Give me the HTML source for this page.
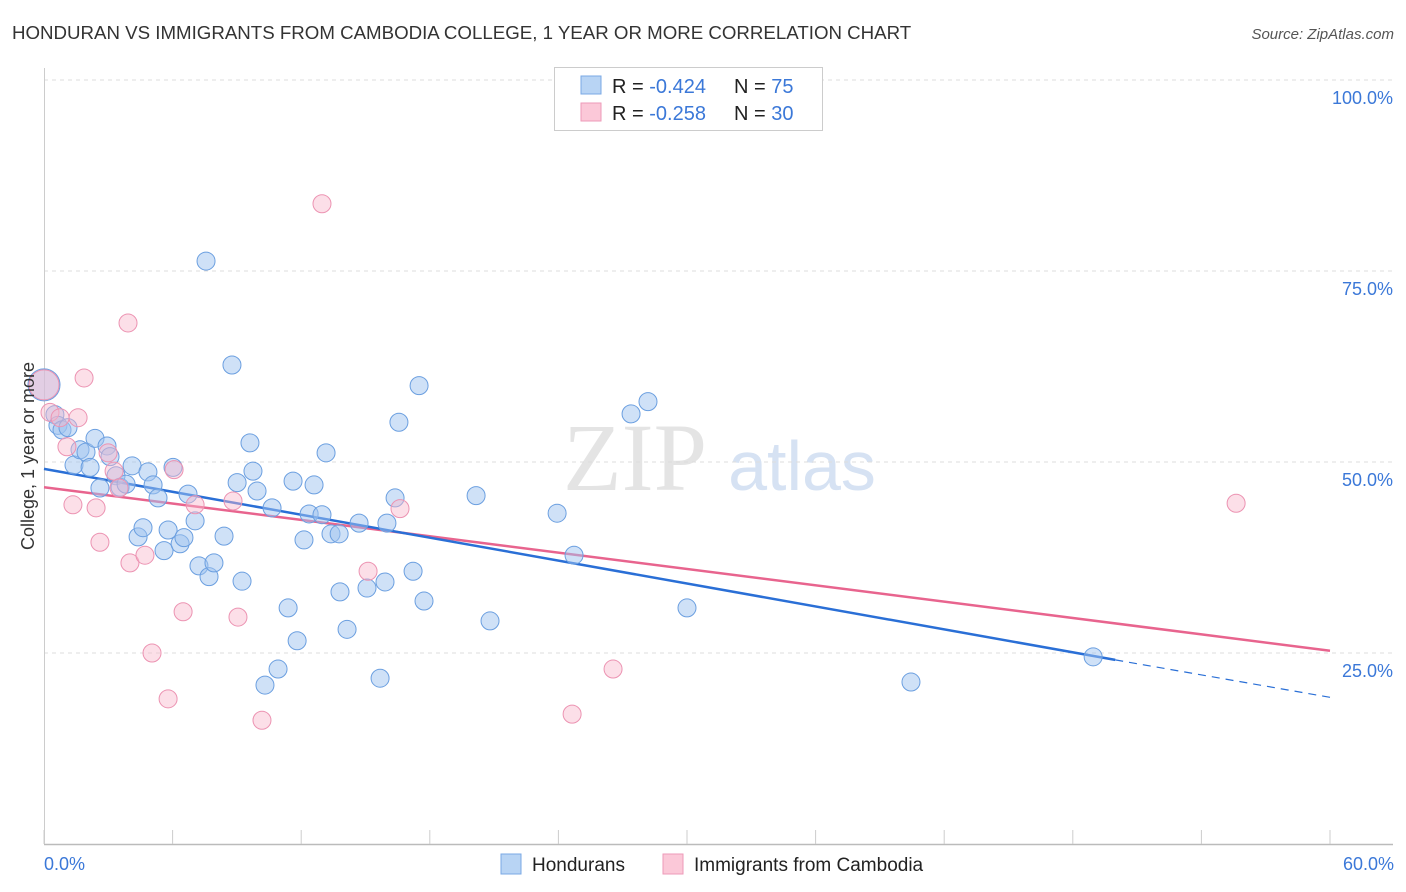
<!DOCTYPE html>
<html><head><meta charset="utf-8"><style>
body{margin:0;background:#fff;font-family:"Liberation Sans",sans-serif;}
svg{display:block}
</style></head><body>
<svg id="chart" width="1406" height="892">
<text x="12" y="39" font-size="18.7" fill="#333">HONDURAN VS IMMIGRANTS FROM CAMBODIA COLLEGE, 1 YEAR OR MORE CORRELATION CHART</text>
<text x="1394" y="39" font-size="15" fill="#555" font-style="italic" text-anchor="end">Source: ZipAtlas.com</text>
<g>
<text x="635" y="490" font-size="96" fill="#e4e4e4" text-anchor="middle" font-family="Liberation Serif,serif">ZIP</text>
<text x="802" y="490" font-size="70" fill="#d6e2f3" text-anchor="middle">atlas</text>
</g>
<g id="grid"></g>
<g id="axes"></g>
<g id="lines"></g>
<g id="points"></g>
<text transform="translate(34,456) rotate(-90)" font-size="18" fill="#333" text-anchor="middle">College, 1 year or more</text>
<g>
<rect x="554.5" y="67.5" width="268" height="63" fill="#fff" stroke="#ccc"/>
<rect x="581" y="76" width="20" height="18" fill="#b8d4f4" stroke="#7aa8e4"/>
<rect x="581" y="103" width="20" height="18" fill="#fbc8d8" stroke="#ee9ab8"/>
<text x="612" y="93" font-size="20" fill="#222">R = <tspan fill="#3b78d8">-0.424</tspan><tspan x="734">N = </tspan><tspan fill="#3b78d8">75</tspan></text>
<text x="612" y="120" font-size="20" fill="#222">R = <tspan fill="#3b78d8">-0.258</tspan><tspan x="734">N = </tspan><tspan fill="#3b78d8">30</tspan></text>
</g>
<g>
<rect x="501" y="854" width="20" height="20" fill="#b8d4f4" stroke="#7aa8e4"/>
<text x="532" y="871" font-size="19" fill="#222">Hondurans</text>
<rect x="663" y="854" width="20" height="20" fill="#fbc8d8" stroke="#ee9ab8"/>
<text x="694" y="871" font-size="19" fill="#222">Immigrants from Cambodia</text>
</g>
</svg>
<script>
const yTicks=[25,50,75,100];
const yTickLabels=["25.0%","50.0%","75.0%","100.0%"];
const xTicks=[0,6,12,18,24,30,36,42,48,54,60];
const xLabelVals=[0,60];
const xLabels=["0.0%","60.0%"];
const bluePts=[[0,60.1],[0.51,56.2],[0.65,54.8],[0.84,54.2],[1.12,54.5],[1.4,49.6],[1.68,51.6],[1.96,51.3],[2.15,49.3],[2.38,53.1],[2.61,46.6],[2.94,52.1],[3.08,50.7],[3.36,48.2],[3.55,46.7],[3.83,47.1],[4.11,49.5],[4.39,40.2],[4.62,41.4],[4.85,48.7],[5.09,47.0],[5.32,45.3],[5.6,38.4],[5.79,41.1],[6.02,49.3],[6.35,39.3],[6.53,40.1],[6.72,45.8],[7.05,42.3],[7.23,36.4],[7.56,76.3],[7.7,35.0],[7.93,36.8],[8.4,40.3],[8.77,62.7],[9.01,47.3],[9.24,34.4],[9.61,52.5],[9.75,48.8],[9.94,46.2],[10.31,20.8],[10.64,44.0],[10.92,22.9],[11.39,30.9],[11.62,47.5],[11.81,26.6],[12.13,39.8],[12.37,43.2],[12.6,47.0],[12.97,43.1],[13.16,51.2],[13.39,40.6],[13.77,40.6],[13.81,33.0],[14.14,28.1],[14.7,42.0],[15.07,33.5],[15.68,21.7],[15.91,34.3],[16.0,42.0],[16.38,45.3],[16.56,55.2],[17.22,35.7],[17.5,60.0],[17.73,31.8],[20.16,45.6],[20.81,29.2],[23.94,43.3],[24.73,37.8],[27.39,56.3],[28.18,57.9],[30.0,30.9],[40.45,21.2],[48.95,24.5]];
const blueSizes=[16];
const pinkPts=[[0,60.1],[0.28,56.5],[0.75,55.8],[1.07,52.0],[1.35,44.4],[1.59,55.8],[1.87,61.0],[2.43,44.0],[2.61,39.5],[2.99,51.2],[3.27,48.8],[3.5,46.6],[3.92,68.2],[4.01,36.8],[4.71,37.8],[5.04,25.0],[5.79,19.0],[6.07,49.0],[6.49,30.4],[7.05,44.4],[8.82,44.9],[9.05,29.7],[10.17,16.2],[12.97,83.8],[15.12,35.7],[16.61,43.9],[24.64,17.0],[26.55,22.9],[55.62,44.6]];
const pinkSizes=[15];
const blueTrend=[[0,49.1],[49.98,24.1]];
const blueTrendExt=[[49.98,24.1],[60,19.2]];
const pinkTrend=[[0,46.7],[60,25.3]];
const NS="http://www.w3.org/2000/svg";
const X0=44,X1=1330,Y0=844,Y100=80;
const sx=v=>X0+(v/60)*(X1-X0);
const sy=v=>Y0-(v/100)*(Y0-Y100);
function mk(t,a,parent){const e=document.createElementNS(NS,t);for(const k in a)e.setAttribute(k,a[k]);document.getElementById(parent).appendChild(e);return e;}
yTicks.forEach((t,i)=>{
 const l=mk('line',{x1:44,x2:1393,y1:sy(t),y2:sy(t),stroke:'#ddd','stroke-dasharray':'4,4'},'grid');
 
 
 const tx=mk('text',{x:1393,y:sy(t)+24,'font-size':18,fill:'#3b78d8','text-anchor':'end'},'axes');
 tx.textContent=yTickLabels[i];
 
 
});
const ax=mk('line',{x1:44,x2:1393,y1:844.5,y2:844.5,stroke:'#bbb','stroke-width':1.5},'axes');


const ay=mk('line',{x1:44.5,x2:44.5,y1:68,y2:844,stroke:'#ccc'},'axes');


xTicks.forEach(t=>{
 const l=mk('line',{x1:sx(t),x2:sx(t),y1:830,y2:844,stroke:'#ccc'},'axes');
 
 
});
xLabelVals.forEach((v,i)=>{
 const tx=mk('text',{x:i==0?sx(v):1394,y:870,'font-size':18,fill:'#3b78d8','text-anchor':i==0?'start':'end'},'axes');
 tx.textContent=xLabels[i];
 
 
});
bluePts.forEach((p,i)=>{
 const c=mk('circle',{cx:sx(p[0]),cy:sy(p[1]),r:i<blueSizes.length?blueSizes[i]:9,fill:'rgba(160,196,240,0.5)',stroke:'#6b9fe0','stroke-width':1},'points');
 
 
});
pinkPts.forEach((p,i)=>{
 const c=mk('circle',{cx:sx(p[0]),cy:sy(p[1]),r:i<pinkSizes.length?pinkSizes[i]:9,fill:'rgba(248,184,204,0.45)',stroke:'#ec93b2','stroke-width':1},'points');
 
 
});
function ln(pts,col,dash,name,w){
 const l=mk('line',{x1:sx(pts[0][0]),y1:sy(pts[0][1]),x2:sx(pts[1][0]),y2:sy(pts[1][1]),stroke:col,'stroke-width':w},'lines');
 if(dash)l.setAttribute('stroke-dasharray',dash);
 
 
}
ln(pinkTrend,'#e8648e',null,'cambodia-trendline',2.5);
ln(blueTrend,'#2a6fd6',null,'honduran-trendline',2.5);
ln(blueTrendExt,'#2a6fd6','8,6','honduran-trendline-extension',1.2);
</script>
</body></html>
